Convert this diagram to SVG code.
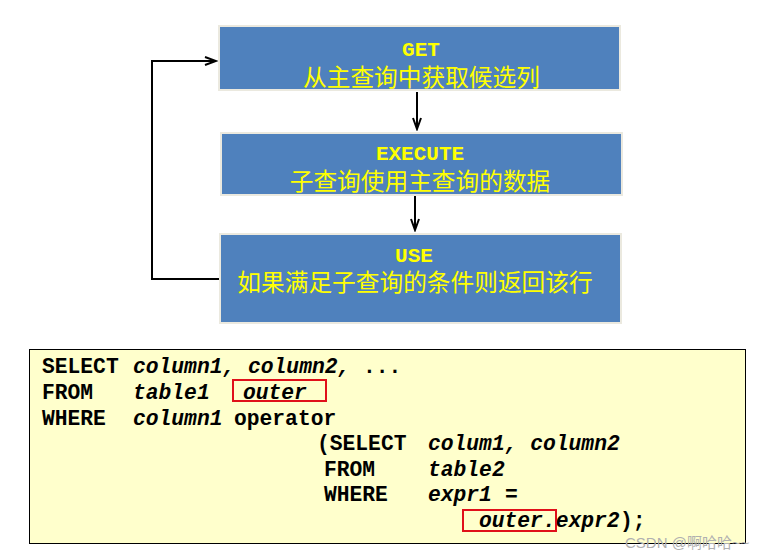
<svg xmlns="http://www.w3.org/2000/svg" width="774" height="559" viewBox="0 0 774 559">
<style>
.box{fill:#4f81bd;stroke:#ebe9df;stroke-width:2}
.t1{font-family:"Liberation Mono","Courier New",monospace;font-weight:bold;font-size:21px;fill:#ffff00;text-anchor:middle}
.t2{font-family:"Liberation Serif","Noto Sans CJK SC",serif;font-size:23.7px;fill:#ffff00;text-anchor:middle}
.ln{fill:none;stroke:#000;stroke-width:2}
.code{font-family:"Liberation Mono","Courier New",monospace;font-weight:bold;font-size:21.3px;fill:#000}
.i{font-style:italic}
.red{fill:none;stroke:#e0101a;stroke-width:2}
</style>
<defs>
<marker id="ah" markerUnits="userSpaceOnUse" markerWidth="14" markerHeight="12" refX="12" refY="5" orient="auto">
<path d="M1,1 L12,5 L1,9" fill="none" stroke="#000" stroke-width="2"/>
</marker>
</defs>
<rect width="774" height="559" fill="#fff"/>
<g id="connectors">
<path class="ln" d="M417,92 V129" marker-end="url(#ah)"/>
<path class="ln" d="M415,196 V230" marker-end="url(#ah)"/>
<path class="ln" d="M219,279 H152 V61 H216" marker-end="url(#ah)"/>
</g>
<g id="get">
<rect class="box" x="219" y="26" width="401" height="64"/>
<text class="t1" x="421" y="56">GET</text>
<text class="t2" x="421.5" y="86">从主查询中获取候选列</text>
</g>
<g id="execute">
<rect class="box" x="221" y="133" width="401" height="62"/>
<text class="t1" x="420" y="160">EXECUTE</text>
<text class="t2" x="420" y="190">子查询使用主查询的数据</text>
</g>
<g id="use">
<rect class="box" x="220" y="234" width="401" height="89"/>
<text class="t1" x="414" y="262">USE</text>
<text class="t2" x="415" y="291">如果满足子查询的条件则返回该行</text>
</g>
<g id="code">
<rect x="29.5" y="349.5" width="716" height="194" fill="#ffffcc" stroke="#000" stroke-width="1"/>
<text class="code" y="373"><tspan x="42">SELECT</tspan><tspan class="i" x="133">column1, column2,</tspan><tspan x="363">...</tspan></text>
<text class="code" y="399"><tspan x="42">FROM</tspan><tspan class="i" x="133">table1</tspan><tspan class="i" x="243">outer</tspan></text>
<text class="code" y="425"><tspan x="42">WHERE</tspan><tspan class="i" x="133">column1</tspan><tspan x="234">operator</tspan></text>
<text class="code" y="450"><tspan x="317">(SELECT</tspan><tspan class="i" x="428">colum1, column2</tspan></text>
<text class="code" y="476"><tspan x="324">FROM</tspan><tspan class="i" x="428">table2</tspan></text>
<text class="code" y="501"><tspan x="324">WHERE</tspan><tspan class="i" x="428">expr1</tspan><tspan x="505">=</tspan></text>
<text class="code" y="527"><tspan class="i" x="479">outer.expr2</tspan><tspan x="620">);</tspan></text>
<rect class="red" x="233" y="380" width="93" height="21"/>
<rect class="red" x="463" y="510" width="93" height="21"/>
</g>
<text x="625" y="548" font-family="'Liberation Sans','Noto Sans CJK SC',sans-serif" font-size="15" fill="#b0b0b0">CSDN @啊哈哈~~</text>
</svg>
